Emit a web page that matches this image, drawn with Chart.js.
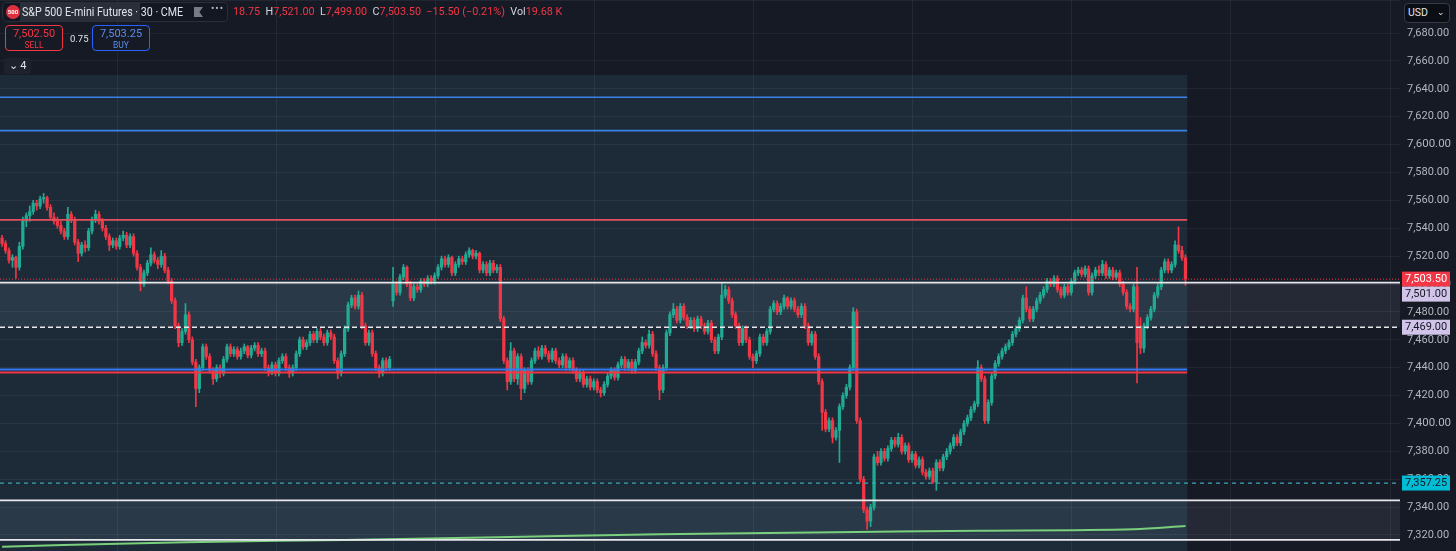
<!DOCTYPE html>
<html>
<head>
<meta charset="utf-8">
<script src="https://cdn.jsdelivr.net/npm/chart.js@4.4.1/dist/chart.umd.min.js"></script>
<style>
  html, body { margin: 0; padding: 0; background: #161a25; overflow: hidden; }
  #wrap { position: relative; width: 1456px; height: 551px; font-family: Roboto, "Noto Sans", sans-serif; }
  #wrap canvas { position: absolute; left: 0; top: 0; }
  .ov { position: absolute; white-space: nowrap; }
  .red { color: #f23645; }
  .lt { color: #d1d4dc; }
</style>
</head>
<body>
<div id="wrap">
  <canvas id="chart"></canvas>

  <div class="ov" style="left:2px;top:2px;width:226px;height:20px;background:#131722;border:1px solid #2a2e39;border-radius:4px;box-sizing:border-box"></div>
  <div class="ov" style="left:6px;top:5px;width:14px;height:14px;border-radius:7px;background:#e0303e;color:#fff;font-size:6px;font-weight:700;line-height:14px;text-align:center">500</div>
  <div class="ov" style="left:20px;top:3px;width:120px;height:18px;background:#2a2e39"></div>
  <div class="ov" style="left:22px;top:3px;font-size:13px;color:#e0e3eb;line-height:17px;transform:scaleX(0.82);transform-origin:0 0">S&amp;P 500 E-mini Futures · 30 · CME</div>
  <div class="ov" style="left:194px;top:7px;width:9px;height:10px;background:#787b86;clip-path:polygon(0 0,100% 0,60% 50%,100% 100%,0 100%)"></div>
  <div class="ov" style="left:211px;top:3px;font-size:10px;color:#b2b5be;letter-spacing:1px">•••</div>
  <div class="ov" style="left:233px;top:5px;font-size:10.8px;line-height:14px">
    <span class="red">18.75</span>
    <span class="lt">&nbsp;H</span><span class="red">7,521.00</span>
    <span class="lt">&nbsp;L</span><span class="red">7,499.00</span>
    <span class="lt">&nbsp;C</span><span class="red">7,503.50</span>
    <span class="red">&nbsp;−15.50 (−0.21%)</span>
    <span class="lt">&nbsp;Vol</span><span class="red">19.68 K</span>
  </div>

  <div class="ov" style="left:5px;top:25px;width:58px;height:26px;border:1px solid #f23645;border-radius:4px;box-sizing:border-box;background:#161a25;text-align:center;color:#f23645">
    <div style="font-size:11px;line-height:13px;margin-top:1px">7,502.50</div>
    <div style="font-size:8.5px;line-height:10px">SELL</div>
  </div>
  <div class="ov" style="left:70px;top:33px;font-size:9.5px;color:#e0e3eb">0.75</div>
  <div class="ov" style="left:92px;top:25px;width:58px;height:26px;border:1px solid #2962ff;border-radius:4px;box-sizing:border-box;background:#161a25;text-align:center;color:#5b8def">
    <div style="font-size:11px;line-height:13px;margin-top:1px">7,503.25</div>
    <div style="font-size:8.5px;line-height:10px">BUY</div>
  </div>
  <div class="ov" style="left:4px;top:58px;width:27px;height:16px;background:#1e222d;border-radius:3px;color:#e0e3eb;font-size:11px;line-height:16px;text-align:center">⌄ 4</div>

  <div class="ov" style="left:1404px;top:3px;width:46px;height:20px;background:#0c0e15;border:1px solid #363a45;border-radius:4px;box-sizing:border-box;color:#e0e3eb;font-size:10.5px;line-height:18px">
    <span style="margin-left:3px">USD</span><span style="position:absolute;right:4px;top:-1px;font-size:9px">⌄</span>
  </div>
</div>

<script>
// --- 30 min bars, ES futures ---
const opens = [
  7533,7529,7524,7517,7519,7512,7527,7545,7549,7552,
  7558,7556,7561,7562,7555,7548,7545,7542,7538,7534,
  7550,7546,7530,7522,7528,7526,7538,7546,7550,7545,
  7540,7534,7528,7531,7527,7533,7535,7528,7534,7522,
  7512,7500,7508,7515,7521,7517,7514,7520,7510,7502,
  7488,7470,7458,7466,7478,7460,7444,7425,7440,7455,
  7448,7438,7432,7440,7436,7446,7455,7450,7453,7448,
  7452,7455,7449,7454,7456,7450,7452,7440,7437,7442,
  7436,7445,7448,7440,7436,7440,7450,7460,7455,7458,
  7464,7460,7466,7462,7458,7465,7462,7445,7436,7450,
  7468,7485,7490,7484,7492,7470,7458,7465,7450,7440,
  7436,7445,7440,7488,7500,7494,7505,7512,7500,7490,
  7498,7496,7502,7500,7504,7502,7506,7512,7518,7514,
  7519,7508,7514,7518,7516,7521,7524,7520,7522,7510,
  7514,7508,7515,7510,7512,7475,7445,7430,7452,7432,
  7448,7425,7438,7430,7445,7452,7448,7454,7450,7446,
  7452,7445,7442,7448,7440,7445,7438,7432,7436,7428,
  7432,7426,7430,7424,7422,7428,7434,7438,7433,7442,
  7446,7440,7444,7438,7444,7452,7458,7456,7464,7450,
  7440,7424,7440,7465,7478,7482,7474,7484,7476,7470,
  7474,7468,7475,7470,7466,7472,7460,7452,7462,7492,
  7496,7488,7478,7470,7458,7468,7460,7448,7445,7450,
  7462,7458,7466,7482,7486,7480,7484,7490,7484,7488,
  7482,7478,7484,7470,7458,7464,7448,7430,7408,7396,
  7402,7390,7395,7412,7420,7426,7440,7480,7402,7360,
  7338,7330,7340,7376,7372,7380,7375,7382,7388,7385,
  7390,7380,7384,7374,7378,7370,7374,7365,7362,7366,
  7358,7372,7368,7376,7380,7384,7390,7386,7394,7400,
  7404,7410,7414,7440,7432,7402,7415,7434,7443,7448,
  7452,7455,7458,7464,7468,7474,7490,7482,7475,7482,
  7488,7492,7496,7502,7500,7504,7496,7492,7498,7494,
  7502,7508,7510,7507,7511,7494,7506,7510,7508,7514,
  7506,7510,7505,7508,7500,7494,7484,7482,7498,7470,
  7454,7470,7476,7482,7492,7498,7510,7516,7510,7514,
  7528,7524,7518.75
];
const highs = [
  7535,7531,7526,7521,7520,7530,7548,7551,7556,7560,
  7560,7563,7565,7563,7557,7551,7548,7545,7540,7555,
  7552,7548,7532,7530,7531,7540,7548,7553,7552,7547,
  7542,7536,7533,7533,7535,7538,7537,7536,7536,7524,
  7514,7510,7517,7526,7523,7519,7524,7522,7512,7504,
  7490,7472,7468,7486,7480,7462,7446,7442,7457,7457,
  7450,7440,7442,7442,7448,7457,7457,7455,7455,7454,
  7457,7456,7456,7458,7458,7454,7454,7442,7444,7444,
  7447,7450,7450,7442,7442,7452,7462,7462,7460,7466,
  7466,7468,7468,7464,7467,7467,7464,7447,7452,7470,
  7487,7492,7492,7495,7494,7472,7467,7467,7452,7442,
  7447,7447,7448,7512,7502,7507,7514,7513,7502,7500,
  7500,7504,7504,7506,7506,7508,7514,7520,7520,7521,
  7520,7516,7520,7520,7523,7526,7525,7524,7523,7516,
  7516,7517,7517,7514,7514,7477,7447,7458,7454,7450,
  7450,7440,7440,7447,7454,7455,7456,7456,7452,7454,
  7454,7447,7450,7450,7447,7447,7440,7438,7438,7434,
  7434,7432,7432,7426,7430,7436,7440,7440,7444,7448,
  7448,7446,7446,7446,7454,7462,7460,7467,7466,7452,
  7442,7442,7467,7480,7486,7484,7486,7486,7478,7476,
  7476,7477,7477,7472,7474,7474,7462,7464,7501,7499,
  7498,7490,7480,7472,7470,7470,7462,7450,7452,7464,
  7464,7468,7484,7488,7488,7486,7492,7491,7490,7490,
  7484,7486,7486,7472,7466,7466,7450,7432,7410,7404,
  7404,7397,7414,7422,7428,7442,7483,7482,7404,7362,
  7340,7342,7378,7380,7382,7382,7384,7390,7390,7393,
  7392,7386,7386,7380,7380,7376,7376,7367,7368,7368,
  7374,7374,7378,7382,7386,7392,7392,7396,7402,7406,
  7412,7416,7445,7442,7434,7417,7436,7445,7450,7454,
  7457,7460,7466,7470,7476,7492,7498,7484,7484,7490,
  7494,7498,7504,7504,7506,7506,7498,7500,7500,7504,
  7510,7512,7512,7513,7513,7508,7512,7513,7517,7516,
  7512,7512,7510,7510,7502,7496,7486,7500,7512,7476,
  7472,7478,7484,7494,7500,7512,7518,7518,7516,7531,
  7541,7527,7521
];
const lows = [
  7527,7522,7515,7512,7504,7510,7525,7541,7545,7550,
  7553,7554,7558,7553,7546,7543,7540,7536,7532,7532,
  7544,7528,7516,7520,7523,7524,7536,7544,7543,7538,
  7532,7524,7526,7525,7525,7531,7526,7526,7520,7510,
  7495,7498,7506,7513,7515,7511,7512,7508,7500,7486,
  7468,7455,7456,7464,7458,7442,7412,7422,7438,7446,
  7436,7428,7430,7433,7434,7444,7448,7448,7446,7446,
  7450,7447,7447,7452,7448,7448,7438,7434,7435,7434,
  7434,7443,7438,7433,7434,7438,7448,7453,7453,7456,
  7458,7458,7460,7456,7456,7460,7443,7432,7434,7448,
  7466,7483,7482,7482,7468,7456,7456,7448,7438,7433,
  7434,7438,7438,7484,7492,7492,7503,7498,7488,7488,
  7494,7494,7498,7498,7500,7500,7504,7510,7512,7512,
  7506,7506,7512,7514,7514,7519,7518,7518,7508,7508,
  7506,7506,7508,7508,7473,7443,7424,7428,7430,7428,
  7417,7422,7428,7428,7443,7446,7446,7448,7444,7444,
  7443,7440,7440,7438,7438,7436,7430,7430,7426,7426,
  7424,7424,7422,7419,7420,7426,7432,7431,7431,7440,
  7438,7438,7436,7436,7442,7450,7454,7454,7448,7438,
  7417,7422,7438,7463,7476,7472,7472,7474,7468,7468,
  7466,7466,7468,7464,7464,7458,7450,7450,7460,7490,
  7486,7476,7468,7456,7456,7458,7446,7440,7443,7448,
  7456,7456,7464,7480,7478,7478,7482,7482,7482,7480,
  7476,7476,7468,7456,7456,7446,7428,7395,7394,7394,
  7386,7388,7372,7410,7418,7424,7438,7400,7358,7336,
  7324,7326,7338,7370,7370,7373,7373,7380,7383,7383,
  7378,7378,7372,7372,7368,7368,7363,7360,7360,7357,
  7352,7366,7366,7374,7378,7382,7384,7384,7392,7398,
  7402,7408,7412,7430,7400,7400,7413,7432,7441,7446,
  7450,7453,7456,7462,7466,7472,7480,7473,7473,7480,
  7486,7490,7494,7498,7498,7494,7490,7490,7492,7492,
  7500,7506,7505,7505,7492,7492,7504,7506,7506,7504,
  7504,7503,7503,7498,7492,7482,7480,7480,7429,7450,
  7451,7468,7474,7480,7490,7496,7508,7508,7508,7512,
  7522,7517,7499
];
const closes = [
  7529,7524,7517,7519,7512,7527,7545,7549,7552,7558,
  7556,7561,7562,7555,7548,7545,7542,7538,7534,7550,
  7546,7530,7522,7528,7526,7538,7546,7550,7545,7540,
  7534,7528,7531,7527,7533,7535,7528,7534,7522,7512,
  7500,7508,7515,7521,7517,7514,7520,7510,7502,7488,
  7470,7458,7466,7478,7460,7444,7425,7440,7455,7448,
  7438,7432,7440,7436,7446,7455,7450,7453,7448,7452,
  7455,7449,7454,7456,7450,7452,7440,7437,7442,7436,
  7445,7448,7440,7436,7440,7450,7460,7455,7458,7464,
  7460,7466,7462,7458,7465,7462,7445,7436,7450,7468,
  7485,7490,7484,7492,7470,7458,7465,7450,7440,7436,
  7445,7440,7446,7500,7494,7505,7512,7500,7490,7498,
  7496,7502,7500,7504,7502,7506,7512,7518,7514,7519,
  7508,7514,7518,7516,7521,7524,7520,7522,7510,7514,
  7508,7515,7510,7512,7475,7445,7430,7452,7432,7448,
  7425,7438,7430,7445,7452,7448,7454,7450,7446,7452,
  7445,7442,7448,7440,7445,7438,7432,7436,7428,7432,
  7426,7430,7424,7422,7428,7434,7438,7433,7442,7446,
  7440,7444,7438,7444,7452,7458,7456,7464,7450,7440,
  7424,7440,7465,7478,7482,7474,7484,7476,7470,7474,
  7468,7475,7470,7466,7472,7460,7452,7462,7492,7496,
  7488,7478,7470,7458,7468,7460,7448,7445,7450,7462,
  7458,7466,7482,7486,7480,7484,7490,7484,7488,7482,
  7478,7484,7470,7458,7464,7448,7430,7408,7396,7402,
  7390,7395,7412,7420,7426,7440,7480,7402,7360,7338,
  7330,7340,7376,7372,7380,7375,7382,7388,7385,7390,
  7380,7384,7374,7378,7370,7374,7365,7362,7366,7358,
  7372,7368,7376,7380,7384,7390,7386,7394,7400,7404,
  7410,7414,7440,7432,7402,7415,7434,7443,7448,7452,
  7455,7458,7464,7468,7474,7490,7482,7475,7482,7488,
  7492,7496,7502,7500,7504,7496,7492,7498,7494,7502,
  7508,7510,7507,7511,7494,7506,7510,7508,7514,7506,
  7510,7505,7508,7500,7494,7484,7482,7498,7458,7454,
  7470,7476,7482,7492,7498,7510,7516,7510,7514,7528,
  7524,7518.75,7503.5
];

// slow moving average (green), read at a few bars
const maBars = [0, 53, 99, 143, 190, 247, 282, 327, 342];
const maValues = [7311.6, 7314.8, 7316.4, 7318.3, 7320.5, 7322.1, 7323.1, 7324.1, 7326.4];

// session separators (bar index)
const sessionBreaks = [33.2, 79.2, 113, 125.2, 171.2, 217, 263, 309, 355, 401];

// horizontal levels
const levelPrices = [7634, 7610, 7546, 7438.6, 7436.6, 7501, 7469, 7503.5, 7357.25, 7344.8, 7316.5];
const levelColors = ['#3b82e6', '#3b82e6', '#e5505d', '#3179f5', '#f23645', '#e8e8ec', '#e8e8ec', '#f23645', '#3aa7b8', '#e8e8ec', '#e8e8ec'];
const levelFull = [false, false, false, false, false, true, true, true, true, true, true];
const levelDash = [[], [], [], [], [], [], [5, 3], [1, 2], [4, 4], [], []];
const levelWidth = [1.6, 1.6, 1.6, 2, 2, 1.6, 1.6, 1, 1.2, 1.6, 1.6];

// shaded zones [low, high]
const zoneLows = [7469, 7316.5];
const zoneHighs = [7501, 7344.8];
const boxTop = 7650;

// price tags on the axis
const tagPrices = [7503.5, 7501, 7469, 7357.25];
const tagColors = ['#f23645', '#d1c4e9', '#d1c4e9', '#00bcd4'];
const tagText = ['#ffffff', '#131722', '#131722', '#131722'];

const UP = '#22ab94', DOWN = '#f23645';
const xMin = -0.6, xMax = 404, lastBar = closes.length - 0.5;
const yMin = 7308.5, yMax = 7703.7;

const barColors = closes.map((c, i) => c >= opens[i] ? UP : DOWN);
const fmt = v => v.toLocaleString('en-US', { minimumFractionDigits: 2, maximumFractionDigits: 2 });

const levelSets = levelPrices.map((p, i) => ({
  type: 'line',
  data: [{ x: xMin, y: p }, { x: levelFull[i] ? xMax : lastBar, y: p }],
  borderColor: levelColors[i],
  borderWidth: levelWidth[i],
  borderDash: levelDash[i],
  pointRadius: 0,
  order: 0
}));

const backdrop = {
  id: 'backdrop',
  beforeDraw(chart) {
    const { ctx, scales: { x, y } } = chart;
    ctx.save();
    ctx.fillStyle = '#161a25';
    ctx.fillRect(0, 0, chart.width, chart.height);
    const x0 = x.getPixelForValue(xMin), x1 = x.getPixelForValue(lastBar), x2 = x.getPixelForValue(xMax);
    ctx.fillStyle = '#1c2b37';
    ctx.fillRect(x0, y.getPixelForValue(boxTop), x1 - x0, chart.height);
    ctx.fillStyle = 'rgba(190,205,230,0.09)';
    zoneLows.forEach((lo, i) => {
      const t = y.getPixelForValue(zoneHighs[i]), b = y.getPixelForValue(lo);
      ctx.fillRect(x0, t, x2 - x0, b - t);
    });
    ctx.strokeStyle = 'rgba(255,255,255,0.06)';
    ctx.lineWidth = 1;
    sessionBreaks.forEach(v => {
      const px = Math.round(x.getPixelForValue(v)) + 0.5;
      ctx.beginPath(); ctx.moveTo(px, 0); ctx.lineTo(px, chart.height); ctx.stroke();
    });
    ctx.restore();
  },
  afterDraw(chart) {
    const { ctx, scales: { y } } = chart;
    ctx.save();
    ctx.font = '11px Roboto, sans-serif';
    ctx.textBaseline = 'middle';
    let prevBottom = -100;
    tagPrices.forEach((p, i) => {
      let cy = y.getPixelForValue(p);
      if (cy - 7.5 < prevBottom) cy = prevBottom + 7.5;
      prevBottom = cy + 7.5;
      ctx.fillStyle = tagColors[i];
      ctx.fillRect(1402, cy - 7.5, 48, 15);
      ctx.fillStyle = tagText[i];
      ctx.fillText(fmt(p), 1405, cy + 0.5);
    });
    ctx.restore();
  }
};

new Chart(document.getElementById('chart'), {
  type: 'bar',
  data: {
    datasets: [
      ...levelSets,
      {
        type: 'line',
        data: maBars.map((b, i) => ({ x: b, y: maValues[i] })),
        borderColor: '#79cf7c',
        borderWidth: 2,
        pointRadius: 0,
        cubicInterpolationMode: 'monotone',
        order: 1
      },
      {
        type: 'bar',
        data: opens.map((o, i) => ({ x: i, y: [o, closes[i]] })),
        backgroundColor: barColors,
        barThickness: 2.6,
        minBarLength: 1,
        grouped: false,
        order: 2
      },
      {
        type: 'bar',
        data: lows.map((l, i) => ({ x: i, y: [l, highs[i]] })),
        backgroundColor: barColors,
        barThickness: 1,
        grouped: false,
        order: 3
      }
    ]
  },
  options: {
    responsive: true,
    maintainAspectRatio: false,
    animation: false,
    layout: { padding: 0 },
    plugins: { legend: { display: false }, tooltip: { enabled: false } },
    scales: {
      x: { type: 'linear', min: xMin, max: xMax, offset: false, display: false },
      y: {
        position: 'right',
        min: yMin, max: yMax,
        afterFit(s) { s.width = 56; s.paddingTop = 0; s.paddingBottom = 0; },
        grid: { color: 'rgba(255,255,255,0.055)', drawTicks: false },
        border: { display: false },
        ticks: {
          stepSize: 20,
          padding: 7,
          color: '#b2b5be',
          font: c => ({ family: 'Roboto', size: c.tick && c.tick.value % 100 === 0 ? 11.5 : 11 }),
          callback: v => (v > 7690 || v % 20 !== 0) ? '' : fmt(v)
        }
      }
    }
  },
  plugins: [backdrop]
});
</script>
</body>
</html>
